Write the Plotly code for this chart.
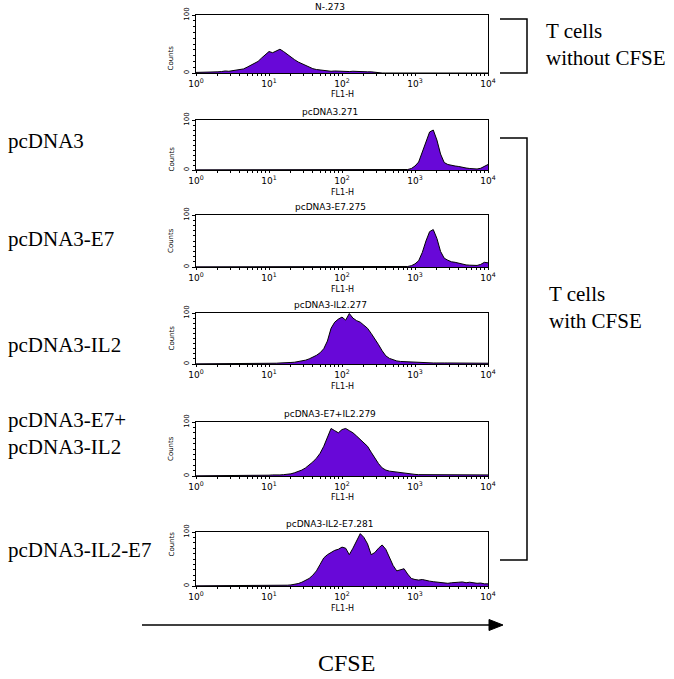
import plotly.graph_objects as go

W, H = 674, 679

# ---------------- data ----------------
# bins on the FL1-H log scale: 10^0 ... 10^4 in 0.05-decade steps
bin_log = [round(i * 0.05, 2) for i in range(81)]
fl1_channel = [10 ** v for v in bin_log]

panel_titles = ["N-.273", "pcDNA3.271", "pcDNA3-E7.275", "pcDNA3-IL2.277",
                "pcDNA3-E7+IL2.279", "pcDNA3-IL2-E7.281"]
row_labels = ["", "pcDNA3", "pcDNA3-E7", "pcDNA3-IL2",
              "pcDNA3-E7+<br>pcDNA3-IL2", "pcDNA3-IL2-E7"]

counts_n273 = [
    1, 1, 1.5, 1, 1.5, 2, 2, 2.5, 3.5, 3,
    4, 4.5, 6, 7, 10, 13, 16, 20, 26, 32,
    37, 35, 38, 41, 37, 32, 27, 23, 19, 16,
    13, 10, 7.5, 6, 5, 4, 3.5, 3, 3.5, 3,
    2.5, 3, 2.5, 3, 2.5, 2, 2.5, 2, 2, 1,
    0.3, 0, 0, 0, 0, 0, 0, 0, 0, 0,
    0, 0, 0, 0, 0, 0, 0, 0, 0, 0,
    0, 0, 0, 0, 0, 0, 0, 0, 0, 0,
    0]
counts_pcdna3 = [
    0.3, 0.3, 0.3, 0.3, 0.3, 0.3, 0.3, 0.3, 0.3, 0.3,
    0.3, 0.3, 0.3, 0.3, 0.3, 0.3, 0.3, 0.3, 0.3, 0.3,
    0.5, 0.3, 0.3, 0.3, 0.3, 0.3, 0.3, 0.3, 0.3, 0.3,
    0.3, 0.3, 0.3, 0.3, 0.3, 0.3, 0.3, 0.3, 0.3, 0.3,
    0.5, 0.3, 0.3, 0.3, 0.3, 0.3, 0.3, 0.3, 0.3, 0.3,
    0.3, 0.3, 0.3, 0.3, 0.5, 0.3, 0.3, 0.5, 1, 3,
    8, 16, 35, 58, 76, 80, 60, 32, 15, 11,
    9, 8, 7, 5, 4, 3, 2, 2, 3.5, 7,
    11]
counts_e7 = [
    0.3, 0.3, 0.3, 0.3, 0.3, 0.3, 0.3, 0.3, 0.3, 0.3,
    0.3, 0.3, 0.3, 0.3, 0.3, 0.3, 0.3, 0.3, 0.3, 0.3,
    0.3, 0.3, 0.3, 0.3, 0.3, 0.3, 0.3, 0.3, 0.5, 0.3,
    0.3, 0.3, 0.3, 0.3, 0.3, 0.3, 0.3, 0.3, 0.3, 0.3,
    0.3, 0.3, 0.3, 0.3, 0.3, 0.3, 0.3, 0.3, 0.3, 0.5,
    0.3, 0.3, 0.3, 0.3, 0.3, 0.5, 0.3, 0.5, 1, 2.5,
    6, 12, 28, 50, 68, 72, 55, 30, 17, 13,
    10, 9, 7, 5, 4, 3.5, 3, 3, 5, 9,
    8]
counts_il2 = [
    0.3, 0.3, 0.3, 0.3, 0.3, 0.3, 0.3, 0.3, 0.3, 0.3,
    0.3, 0.3, 0.3, 0.3, 0.3, 0.3, 0.3, 0.3, 0.3, 0.3,
    0.3, 0.3, 1.5, 2, 2, 2.5, 3, 3.5, 4.5, 6,
    7.5, 10, 13, 17, 22, 30, 45, 70, 82, 88,
    92, 86, 99, 90, 85, 82, 76, 70, 60, 50,
    38, 26, 16, 11, 8, 6, 5, 4.5, 4, 3.5,
    3, 2.5, 2.5, 2, 2.5, 2, 2, 2.5, 2, 2,
    2, 2.5, 2, 2, 1.5, 2, 2, 1.5, 2, 1.5,
    1.5]
counts_e7_il2 = [
    0.3, 0.3, 0.3, 0.3, 0.3, 0.3, 0.3, 0.3, 0.3, 0.3,
    0.3, 0.3, 0.3, 0.3, 0.3, 0.3, 0.3, 0.3, 0.3, 0.3,
    1.5, 2, 1.5, 2, 2.5, 3, 4, 6, 8, 11,
    15, 20, 26, 33, 42, 55, 70, 88, 84, 80,
    86, 88, 84, 80, 74, 68, 62, 55, 44, 33,
    23, 15, 11, 9, 8, 7, 6, 5, 4, 3.5,
    3, 2.5, 2.5, 2, 2.5, 2, 2.5, 2, 2, 2.5,
    2, 2, 2.5, 2, 2, 2.5, 2, 2, 2, 2,
    2]
counts_il2_e7 = [
    0.3, 0.3, 0.3, 0.3, 0.3, 0.3, 0.3, 0.3, 0.3, 0.3,
    0.3, 0.3, 0.3, 0.3, 1.5, 1, 1.5, 1, 1, 1.5,
    1, 0.5, 0.5, 1, 1, 1.5, 2, 3, 4.5, 7,
    10, 14, 20, 28, 40, 52, 58, 62, 66, 68,
    72, 70, 58, 70, 85, 97, 90, 78, 58, 62,
    70, 76, 68, 52, 38, 28, 30, 32, 22, 14,
    12, 11, 12, 10, 9, 8, 7, 6, 5, 5,
    6, 7, 7, 7.5, 6, 7, 6, 5, 5.5, 4,
    4]

all_counts = [counts_n273, counts_pcdna3, counts_e7, counts_il2,
              counts_e7_il2, counts_il2_e7]

x_tickvals = [1, 10, 100, 1000, 10000]
x_ticktext = ["10<sup>0</sup>", "10<sup>1</sup>", "10<sup>2</sup>",
              "10<sup>3</sup>", "10<sup>4</sup>"]
x_minor = [k * 10 ** d for d in range(4) for k in range(2, 10)]

# ---------------- layout helpers ----------------
def xp(px):
    return px / W


def yp(py):
    return 1 - py / H


panel_x = (196, 488)
panel_y = [(15, 73), (120, 170), (215, 267), (313, 364), (422, 476), (532, 586)]
label_y = [None, 141, 239, 345, 434, 550]

FILL = "#6808d8"
SANS = "DejaVu Sans"
SERIF = "Liberation Serif"

fig = go.Figure()
annotations = []
shapes = []

for i, counts in enumerate(all_counts):
    n = i + 1
    xa = "x" if n == 1 else f"x{n}"
    ya = "y" if n == 1 else f"y{n}"
    fig.add_trace(go.Scatter(
        x=fl1_channel, y=counts, xaxis=xa, yaxis=ya, mode="lines",
        fill="tozeroy", fillcolor=FILL,
        line=dict(color="black", width=1), hoverinfo="skip"))
    top, bot = panel_y[i]
    fig.layout[f"xaxis{n}"] = dict(
        type="log", range=[0, 4], domain=[xp(panel_x[0]), xp(panel_x[1])],
        anchor=ya, automargin=False,
        showline=True, linecolor="black", linewidth=1, mirror=True,
        showgrid=False, zeroline=False, ticks="outside", ticklen=2,
        tickcolor="black", tickvals=x_tickvals, ticktext=x_ticktext,
        tickfont=dict(family=SANS, size=9, color="black"),
        minor=dict(ticks="outside", ticklen=2, tickcolor="black",
                   tickvals=x_minor))
    fig.layout[f"yaxis{n}"] = dict(
        range=[0, 100], domain=[yp(bot), yp(top)], anchor=xa,
        automargin=False,
        showline=True, linecolor="black", linewidth=1, mirror=True,
        showgrid=False, zeroline=False, ticks="outside", ticklen=3,
        tickcolor="black", tickvals=[0, 100], ticktext=["0", "100"],
        tickangle=-90, tickfont=dict(family=SANS, size=7, color="black"),
        minor=dict(ticks="outside", ticklen=2, tickcolor="black", dtick=10))
    # panel title
    annotations.append(dict(
        x=xp(330), y=yp(top - 1), xref="paper", yref="paper",
        text=panel_titles[i], showarrow=False, xanchor="center",
        yanchor="bottom", font=dict(family=SANS, size=9, color="black")))
    # Counts
    annotations.append(dict(
        x=xp(165), y=yp((top + bot) / 2), xref="paper", yref="paper",
        text="Counts", showarrow=False, textangle=-90,
        font=dict(family=SANS, size=7, color="black")))
    # FL1-H
    annotations.append(dict(
        x=xp(342), y=yp(bot + 22), xref="paper", yref="paper",
        text="FL1-H", showarrow=False, yanchor="middle",
        font=dict(family=SANS, size=8, color="black")))
    if row_labels[i]:
        annotations.append(dict(
            x=xp(6), y=yp(label_y[i]), xref="paper", yref="paper",
            text=row_labels[i], showarrow=False, xanchor="left",
            align="left", yanchor="middle",
            font=dict(family=SERIF, size=21, color="black")))

# right-side group labels
annotations.append(dict(
    x=xp(544), y=yp(45), xref="paper", yref="paper",
    text="T cells<br>without CFSE", showarrow=False, xanchor="left",
    align="left", yanchor="middle",
    font=dict(family=SERIF, size=21, color="black")))
annotations.append(dict(
    x=xp(547), y=yp(308), xref="paper", yref="paper",
    text="T cells<br>with CFSE", showarrow=False, xanchor="left",
    align="left", yanchor="middle",
    font=dict(family=SERIF, size=21, color="black")))
annotations.append(dict(
    x=xp(347), y=yp(663), xref="paper", yref="paper",
    text="CFSE", showarrow=False, yanchor="middle",
    font=dict(family=SERIF, size=24, color="black")))


def bracket(x0, x1, y0, y1):
    return dict(type="path", xref="paper", yref="paper",
                path=f"M {xp(x0)},{yp(y0)} L {xp(x1)},{yp(y0)} "
                     f"L {xp(x1)},{yp(y1)} L {xp(x0)},{yp(y1)}",
                line=dict(color="black", width=1.5))


shapes.append(bracket(500, 527, 19, 73))
shapes.append(bracket(500, 527, 138, 560))
# CFSE arrow
shapes.append(dict(type="line", xref="paper", yref="paper",
                   x0=xp(142), x1=xp(492), y0=yp(625), y1=yp(625),
                   line=dict(color="black", width=1.5)))
shapes.append(dict(type="path", xref="paper", yref="paper",
                   path=f"M {xp(489)},{yp(619.5)} L {xp(503)},{yp(625)} "
                        f"L {xp(489)},{yp(630.5)} Z",
                   fillcolor="black", line=dict(color="black", width=1)))

fig.update_layout(
    width=W, height=H, margin=dict(l=0, r=0, t=0, b=0),
    paper_bgcolor="white", plot_bgcolor="white", showlegend=False,
    annotations=annotations, shapes=shapes)

fig.write_html("out.html", config={"displayModeBar": False},
               post_script="document.body.style.margin='0';"
                           "document.body.style.overflow='hidden';")
